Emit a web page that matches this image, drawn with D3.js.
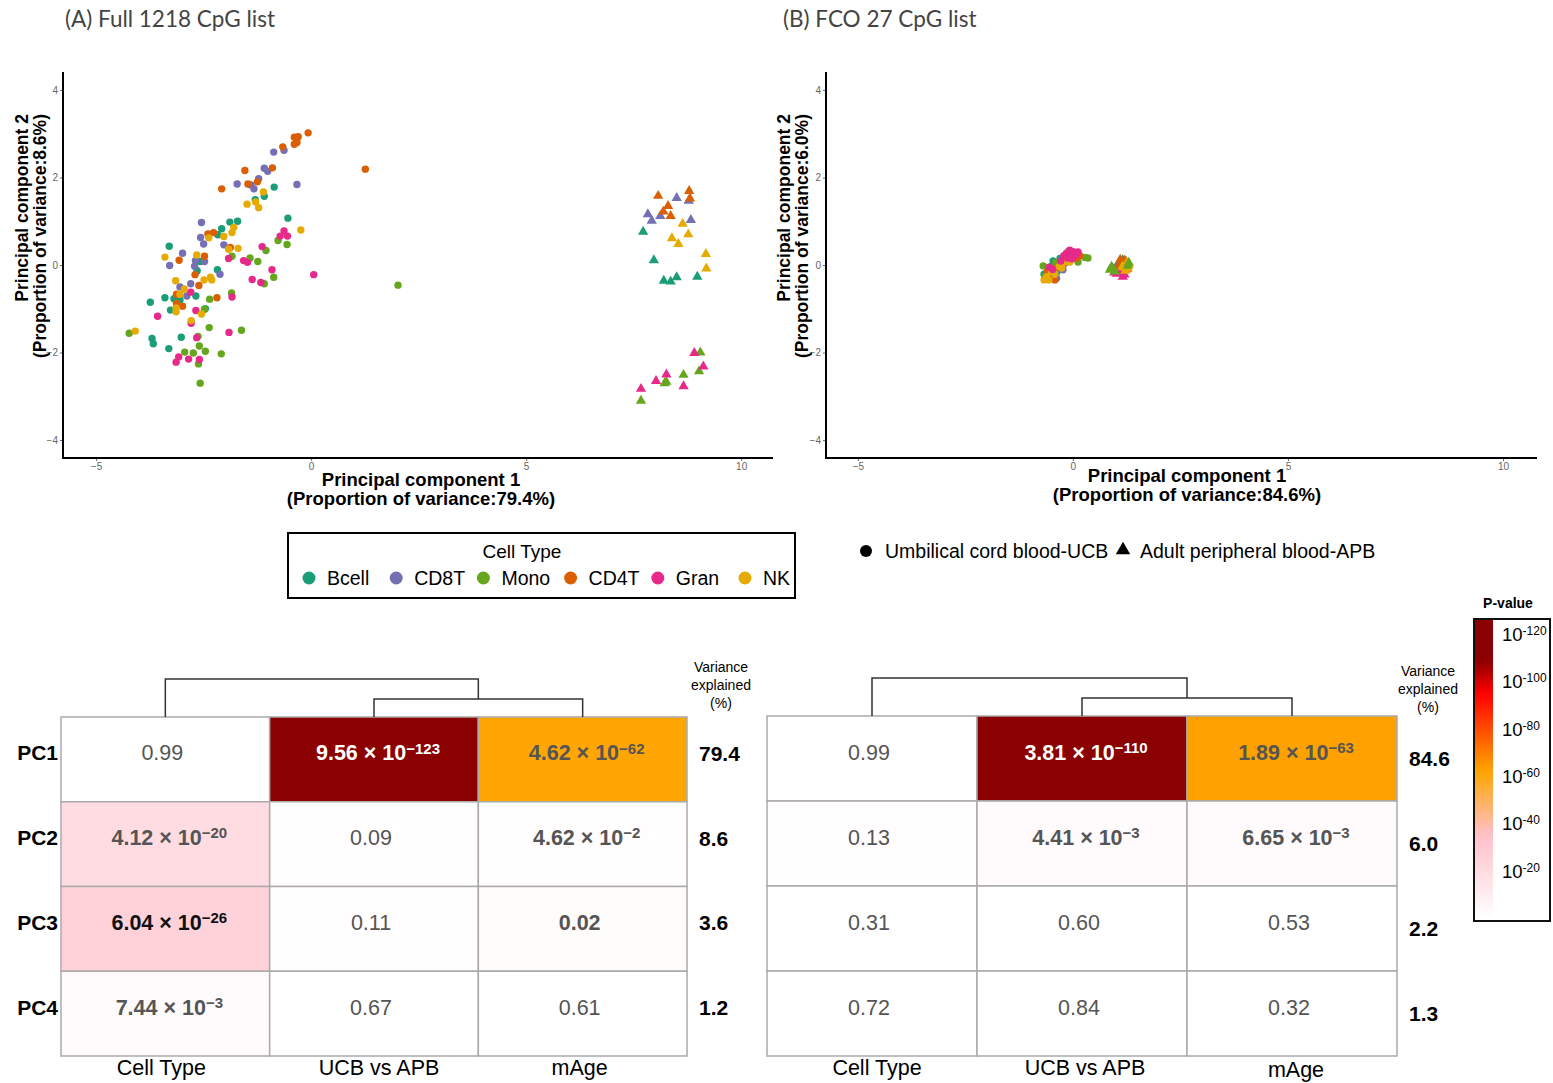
<!DOCTYPE html>
<html>
<head>
<meta charset="utf-8">
<script src="https://cdn.jsdelivr.net/npm/d3@7"></script>
<style>
  body { margin: 0; background: #fff; }
  svg { display: block; }
  text { font-family: "Liberation Sans", Arial, sans-serif; }
</style>
</head>
<body>
<svg id="fig" width="1553" height="1083"></svg>
<script>
// ---------- data ----------
const cellTypes = ["Bcell", "CD8T", "Mono", "CD4T", "Gran", "NK"];
const cellColors = ["#1B9E77", "#7570B3", "#66A61E", "#D95F02", "#E7298A", "#E6AB02"];
const pc1Ticks = [-5, 0, 5, 10];
const pc2Ticks = [-4, -2, 0, 2, 4];

// Full 1218 CpG list: [cell type, PC1, PC2]
const fullUCB = [
  ["Bcell",-0.86,1.78],["Bcell",-1.30,1.49],["Bcell",-1.09,1.57],["Bcell",-0.54,1.07],["Bcell",-1.89,0.98],
  ["Bcell",-1.71,1.00],["Bcell",-2.08,0.83],["Bcell",-2.17,0.69],["Bcell",-3.30,0.43],["Bcell",-2.58,0.08],
  ["Bcell",-2.65,-0.13],["Bcell",-2.18,-0.11],["Bcell",-2.68,-0.71],["Bcell",-3.19,-0.77],["Bcell",-3.05,-0.80],
  ["Bcell",-3.74,-0.85],["Bcell",-3.40,-0.75],["Bcell",-3.27,-1.03],["Bcell",-2.46,-1.00],["Bcell",-3.70,-1.68],
  ["Bcell",-3.67,-1.80],["Bcell",-3.02,-1.65],["Bcell",-3.31,-1.91],
  ["CD8T",-0.63,2.62],["CD8T",-0.87,2.58],["CD8T",-1.09,2.21],["CD8T",-1.01,2.14],["CD8T",-1.22,1.97],
  ["CD8T",-1.72,1.85],["CD8T",-1.40,1.83],["CD8T",-1.33,1.74],["CD8T",-0.33,1.84],["CD8T",-2.55,0.97],
  ["CD8T",-2.57,0.63],["CD8T",-2.50,0.48],["CD8T",-2.03,0.46],["CD8T",-2.99,0.27],["CD8T",-3.29,-0.01],
  ["CD8T",-2.69,0.10],["CD8T",-2.48,0.08],["CD8T",-2.71,-0.03],["CD8T",-2.12,-0.21],["CD8T",-2.80,-0.43],
  ["CD8T",-3.05,-0.50],["CD8T",-2.89,-0.71],
  ["Mono",-0.77,0.56],["Mono",-0.56,0.47],["Mono",-1.05,0.33],["Mono",-1.84,0.20],["Mono",-1.42,0.16],
  ["Mono",-1.24,0.08],["Mono",-0.87,-0.28],["Mono",-1.09,-0.43],["Mono",-1.85,-0.64],["Mono",-2.36,-0.78],
  ["Mono",-2.48,-1.01],["Mono",-2.37,-1.43],["Mono",-1.62,-1.49],["Mono",-4.23,-1.56],["Mono",-2.63,-1.63],
  ["Mono",-2.60,-1.85],["Mono",-2.94,-1.99],["Mono",-2.74,-2.01],["Mono",-2.46,-1.97],["Mono",-2.09,-2.03],
  ["Mono",-2.62,-2.26],["Mono",-2.58,-2.70],["Mono",2.02,-0.46],
  ["CD4T",-0.07,3.02],["CD4T",-0.30,2.93],["CD4T",-0.39,2.92],["CD4T",-0.39,2.76],["CD4T",-0.33,2.80],
  ["CD4T",-0.66,2.70],["CD4T",-1.54,2.16],["CD4T",-0.90,2.22],["CD4T",-1.25,1.90],["CD4T",-1.47,1.85],
  ["CD4T",-2.08,1.74],["CD4T",1.26,2.19],["CD4T",-2.40,0.71],["CD4T",-2.27,0.74],["CD4T",-1.88,0.40],
  ["CD4T",-3.07,0.11],["CD4T",-2.48,0.20],["CD4T",-2.70,-0.22],["CD4T",-2.61,-0.47],["CD4T",-3.13,-0.67],
  ["CD4T",-2.19,-0.75],["CD4T",-3.13,-0.88],["CD4T",-2.99,-0.94],
  ["Gran",-0.63,0.78],["Gran",-0.72,0.66],["Gran",-0.55,0.66],["Gran",-1.14,0.42],["Gran",-1.92,0.15],
  ["Gran",-1.57,0.10],["Gran",-1.48,0.06],["Gran",-0.91,-0.11],["Gran",0.06,-0.22],["Gran",-1.37,-0.33],
  ["Gran",-1.17,-0.40],["Gran",-2.80,-0.62],["Gran",-1.84,-0.73],["Gran",-2.68,-1.04],["Gran",-3.57,-1.17],
  ["Gran",-2.79,-1.33],["Gran",-1.91,-1.54],["Gran",-2.66,-1.66],["Gran",-3.08,-2.10],["Gran",-3.14,-2.22],
  ["Gran",-2.85,-2.15],["Gran",-2.60,-2.16],
  ["NK",-1.11,1.67],["NK",-1.49,1.39],["NK",-1.29,1.44],["NK",-1.22,1.31],["NK",-1.80,0.86],
  ["NK",-1.84,0.74],["NK",-2.38,0.62],["NK",-2.03,0.65],["NK",-0.24,0.80],["NK",-1.70,0.38],
  ["NK",-1.92,0.36],["NK",-3.40,0.18],["NK",-2.66,0.23],["NK",-3.15,-0.36],["NK",-2.49,-0.34],
  ["NK",-2.34,-0.28],["NK",-2.31,-0.34],["NK",-2.95,-0.55],["NK",-3.05,-0.67],["NK",-3.14,-0.98],
  ["NK",-3.14,-1.07],["NK",-2.55,-1.12],["NK",-2.79,-1.27],["NK",-4.09,-1.51]
];
const fullAPB = [
  ["Bcell",7.72,0.76],["Bcell",7.97,0.11],["Bcell",8.20,-0.36],["Bcell",8.36,-0.38],["Bcell",8.50,-0.28],["Bcell",8.98,-0.27],
  ["CD8T",8.50,1.53],["CD8T",8.78,1.47],["CD8T",7.83,1.16],["CD8T",8.12,1.12],["CD8T",7.92,1.01],["CD8T",8.83,1.03],
  ["Mono",9.05,-2.00],["Mono",9.02,-2.43],["Mono",8.66,-2.51],["Mono",8.26,-2.67],["Mono",8.22,-2.70],["Mono",7.67,-3.10],
  ["CD4T",8.07,1.58],["CD4T",8.79,1.69],["CD4T",8.81,1.52],["CD4T",8.30,1.35],["CD4T",8.19,1.22],["CD4T",8.36,1.12],
  ["Gran",8.91,-2.01],["Gran",9.12,-2.32],["Gran",8.26,-2.50],["Gran",8.02,-2.65],["Gran",8.66,-2.77],["Gran",7.67,-2.83],
  ["NK",8.64,0.94],["NK",8.77,0.70],["NK",8.39,0.61],["NK",8.54,0.48],["NK",9.18,0.25],["NK",9.19,-0.08]
];

// FCO 27 CpG list: [cell type, PC1, PC2]
const fcoUCB = [
  ["Bcell",-0.46,0.09],["Bcell",-0.30,0.15],["Bcell",-0.09,0.32],["Bcell",-0.58,-0.11],["Bcell",-0.26,0.07],
  ["Bcell",-0.37,-0.16],["Bcell",0.05,0.25],["Bcell",-0.67,-0.21],["Bcell",-0.16,0.21],["Bcell",-0.49,-0.02],
  ["CD8T",-0.38,-0.30],["CD8T",-0.19,0.04],["CD8T",-0.53,-0.16],["CD8T",-0.30,-0.07],["CD8T",-0.07,0.21],
  ["CD8T",-0.63,-0.30],["CD8T",-0.23,-0.11],["CD8T",0.02,0.30],
  ["Mono",-0.69,-0.02],["Mono",-0.65,-0.27],["Mono",0.28,0.17],["Mono",0.35,0.16],["Mono",-0.40,0.05],
  ["Mono",-0.56,-0.23],["Mono",0.12,0.07],["Mono",-0.49,-0.30],
  ["CD4T",-0.50,-0.27],["CD4T",-0.23,0.00],["CD4T",0.16,0.21],["CD4T",0.09,0.16],["CD4T",-0.35,-0.05],
  ["CD4T",-0.60,-0.16],["CD4T",-0.12,0.11],["CD4T",-0.42,-0.34],
  ["NK",-0.61,-0.27],["NK",-0.50,-0.15],["NK",-0.32,-0.04],["NK",-0.42,-0.21],["NK",-0.26,-0.07],
  ["NK",-0.19,0.07],["NK",-0.67,-0.34],["NK",-0.07,0.07],["NK",-0.56,-0.34],
  ["Gran",-0.55,-0.05],["Gran",-0.47,-0.10],["Gran",-0.15,0.27],["Gran",-0.07,0.34],["Gran",0.00,0.30],
  ["Gran",0.07,0.23],["Gran",0.12,0.30],["Gran",-0.12,0.16],["Gran",-0.21,0.21],["Gran",-0.02,0.14],["Gran",-0.28,0.09]
];
const fcoAPB = [
  ["Bcell",1.02,-0.08],["Bcell",1.16,0.11],["Bcell",1.10,0.02],["Bcell",1.20,-0.05],["Bcell",1.07,0.05],["Bcell",1.23,0.08],
  ["CD8T",1.12,-0.18],["CD8T",1.05,-0.12],["CD8T",1.18,-0.02],["CD8T",1.22,0.02],["CD8T",1.00,-0.05],["CD8T",1.14,0.07],
  ["CD4T",1.13,0.08],["CD4T",1.10,0.12],["CD4T",1.17,0.04],["CD4T",1.24,0.06],["CD4T",1.08,0.00],["CD4T",1.20,0.10],
  ["Gran",1.02,-0.20],["Gran",1.16,-0.27],["Gran",1.10,-0.14],["Gran",1.25,-0.10],["Gran",0.96,-0.17],["Gran",1.20,-0.22],
  ["NK",1.25,0.04],["NK",1.28,-0.08],["NK",1.19,-0.06],["NK",1.30,0.01],["NK",1.22,-0.13],["NK",1.15,-0.04],
  ["Mono",0.86,-0.11],["Mono",0.93,-0.08],["Mono",0.98,-0.15],["Mono",1.28,-0.02],["Mono",1.30,0.05],["Mono",0.90,-0.04]
];

// Association of each PC with covariates (p-values) and variance explained
const pcLabels = ["PC1", "PC2", "PC3", "PC4"];
const covariates = ["Cell Type", "UCB vs APB", "mAge"];
const fullPvals = [
  ["0.99", "9.56e-123", "4.62e-62"],
  ["4.12e-20", "0.09", "4.62e-2"],
  ["6.04e-26", "0.11", "0.02"],
  ["7.44e-3", "0.67", "0.61"]
];
const fullVariance = [79.4, 8.6, 3.6, 1.2];
const fcoPvals = [
  ["0.99", "3.81e-110", "1.89e-63"],
  ["0.13", "4.41e-3", "6.65e-3"],
  ["0.31", "0.60", "0.53"],
  ["0.72", "0.84", "0.32"]
];
const fcoVariance = [84.6, 6.0, 2.2, 1.3];
const pTickExponents = [120, 100, 80, 60, 40, 20];

// ---------- drawing ----------
const svg = d3.select("#fig");
const colorOf = d3.scaleOrdinal(cellTypes, cellColors);
const heat = d3.scaleLinear()
  .domain([0, 35, 62, 95, 109])
  .range(["#ffffff", "#ffc0cb", "#ffa500", "#ff0000", "#8b0000"])
  .clamp(true);
const minus = s => s.replace(/-/g, "\u2212");

function scatterPanel(cfg) {
  const g = svg.append("g");
  const x = d3.scaleLinear().domain(cfg.xDomain).range([cfg.left, cfg.right]);
  const y = d3.scaleLinear().domain([-4.41, 4.41]).range([cfg.bottom, cfg.top]);

  g.append("text").attr("x", cfg.titleX).attr("y", 27)
    .style("font-family", "Lato, 'Open Sans', sans-serif").style("font-size", "22.5px")
    .attr("fill", "#444").text(cfg.title);

  const xa = g.append("g").attr("transform", `translate(0,${cfg.bottom})`)
    .call(d3.axisBottom(x).tickValues(pc1Ticks).tickSize(3).tickPadding(2).tickFormat(d => minus(String(d))));
  const ya = g.append("g").attr("transform", `translate(${cfg.left},0)`)
    .call(d3.axisLeft(y).tickValues(pc2Ticks).tickSize(3).tickPadding(2).tickFormat(d => minus(String(d))));
  [xa, ya].forEach(a => {
    a.select(".domain").remove();
    a.selectAll(".tick line").attr("stroke", "#666");
    a.selectAll(".tick text").attr("fill", "#666").style("font-size", "10px")
      .style("font-family", "'Liberation Sans', Arial, sans-serif");
  });
  g.append("path")
    .attr("d", `M${cfg.left},${cfg.top}V${cfg.bottom}H${cfg.right}`)
    .attr("fill", "none").attr("stroke", "#000").attr("stroke-width", 2);

  g.append("g").selectAll("circle").data(cfg.ucb).join("circle")
    .attr("cx", d => x(d[1])).attr("cy", d => y(d[2])).attr("r", 3.7)
    .attr("fill", d => colorOf(d[0]));
  const tri = d3.symbol(d3.symbolTriangle, 46);
  g.append("g").selectAll("path").data(cfg.apb).join("path")
    .attr("d", tri).attr("transform", d => `translate(${x(d[1])},${y(d[2])})`)
    .attr("fill", d => colorOf(d[0]));

  const xt = g.append("text").attr("text-anchor", "middle")
    .style("font-size", "18.5px").style("font-weight", "bold");
  xt.append("tspan").attr("x", cfg.xTitleX).attr("y", cfg.xTitleY).text("Principal component 1");
  xt.append("tspan").attr("x", cfg.xTitleX).attr("y", cfg.xTitleY + 19).text(cfg.xVar);

  const yt = g.append("text").attr("text-anchor", "end")
    .attr("transform", `translate(${cfg.yTitleX},114) rotate(-90)`)
    .style("font-size", "17.5px").style("font-weight", "bold");
  yt.append("tspan").attr("x", 0).attr("y", 0).text("Principal component 2");
  yt.append("tspan").attr("x", 0).attr("y", 18).text(cfg.yVar);
}

scatterPanel({
  title: "(A) Full 1218 CpG list", titleX: 65, left: 63, right: 773, top: 72, bottom: 458,
  xDomain: [-5.77, 10.74], ucb: fullUCB, apb: fullAPB,
  xTitleX: 421, xTitleY: 486, xVar: "(Proportion of variance:79.4%)",
  yTitleX: 28, yVar: "(Proportion of variance:8.6%)"
});
scatterPanel({
  title: "(B) FCO 27 CpG list", titleX: 783, left: 826, right: 1537, top: 72, bottom: 458,
  xDomain: [-5.74, 10.79], ucb: fcoUCB, apb: fcoAPB,
  xTitleX: 1187, xTitleY: 482, xVar: "(Proportion of variance:84.6%)",
  yTitleX: 790, yVar: "(Proportion of variance:6.0%)"
});

// Cell type legend
const leg = svg.append("g");
leg.append("rect").attr("x", 288).attr("y", 533).attr("width", 507).attr("height", 65)
  .attr("fill", "none").attr("stroke", "#000").attr("stroke-width", 2);
leg.append("text").attr("x", 522).attr("y", 558).attr("text-anchor", "middle")
  .style("font-size", "19px").text("Cell Type");
const legX = d3.scalePoint().domain(cellTypes).range([309, 745]);
const item = leg.selectAll("g.item").data(cellTypes).join("g").attr("class", "item")
  .attr("transform", d => `translate(${legX(d)},578)`);
item.append("circle").attr("r", 6.5).attr("fill", d => colorOf(d));
item.append("text").attr("x", 18).attr("y", 7).style("font-size", "19.5px").text(d => d);

// Sample group legend
const sg = svg.append("g").style("font-size", "19.5px");
sg.append("circle").attr("cx", 866).attr("cy", 551).attr("r", 6).attr("fill", "#000");
sg.append("text").attr("x", 885).attr("y", 558).text("Umbilical cord blood-UCB");
sg.append("path").attr("d", d3.symbol(d3.symbolTriangle, 90)()).attr("transform", "translate(1123,550)").attr("fill", "#000");
sg.append("text").attr("x", 1140).attr("y", 558).text("Adult peripheral blood-APB");

// ---------- heatmaps ----------
function heatPanel(cfg) {
  const g = svg.append("g");
  const x = d3.scaleBand().domain(covariates).range([cfg.left, cfg.right]);
  const y = d3.scaleBand().domain(pcLabels).range([cfg.top, cfg.bottom]);
  const cells = [];
  cfg.pvals.forEach((row, i) => row.forEach((s, j) => {
    const p = +s;
    cells.push({ pc: pcLabels[i], cov: covariates[j], s, p, v: -Math.log10(p) });
  }));
  g.selectAll("rect").data(cells).join("rect")
    .attr("x", d => x(d.cov)).attr("y", d => y(d.pc))
    .attr("width", x.bandwidth()).attr("height", y.bandwidth())
    .attr("fill", d => heat(d.v)).attr("stroke", "#aaa").attr("stroke-width", 1.5);

  const t = g.selectAll("text.cell").data(cells).join("text").attr("class", "cell")
    .attr("x", d => x(d.cov) + x.bandwidth() / 2 + (d.s.includes("e") ? 4 : -3))
    .attr("y", d => y(d.pc) + y.bandwidth() / 2 + 1)
    .attr("text-anchor", "middle").style("font-size", "21.5px")
    .style("font-weight", d => d.p < 0.05 ? "bold" : "normal")
    .attr("fill", d => d.v > 90 ? "#fff" : (d.v > 22 && d.v < 40 ? "#111" : "#555"));
  t.each(function (d) {
    const el = d3.select(this);
    if (d.s.includes("e")) {
      const [m, e] = d.s.split("e");
      el.append("tspan").text(`${m} \u00d7 10`);
      el.append("tspan").attr("dy", "-0.45em").style("font-size", "15px").text(minus(e));
    } else {
      el.text(d.s);
    }
  });

  // dendrogram: Cell Type joins the (UCB vs APB, mAge) cluster
  const c = covariates.map(k => x(k) + x.bandwidth() / 2);
  const hi = cfg.top - 38, lo = cfg.top - 18;
  const mid = (c[1] + c[2]) / 2;
  g.append("path")
    .attr("d", `M${c[1]},${cfg.top}V${lo}H${c[2]}V${cfg.top}M${mid},${lo}V${hi}H${c[0]}V${cfg.top}`)
    .attr("fill", "none").attr("stroke", "#333").attr("stroke-width", 1.5);

  if (cfg.rowLabels) {
    g.selectAll("text.pc").data(pcLabels).join("text").attr("class", "pc")
      .attr("x", cfg.left - 3).attr("y", d => y(d) + y.bandwidth() / 2 + 1)
      .attr("text-anchor", "end").style("font-size", "21px").style("font-weight", "bold").text(d => d);
  }
  g.selectAll("text.var").data(cfg.variance).join("text").attr("class", "var")
    .attr("x", cfg.right + 12).attr("y", (d, i) => y(pcLabels[i]) + y.bandwidth() / 2 + cfg.varDy)
    .style("font-size", "21px").style("font-weight", "bold").text(d => d.toFixed(1));
  const vh = g.append("text").attr("text-anchor", "middle").style("font-size", "14px");
  ["Variance", "explained", "(%)"].forEach((w, i) =>
    vh.append("tspan").attr("x", cfg.varHeadX).attr("y", cfg.varHeadY + i * 18).text(w));
  g.selectAll("text.cov").data(covariates).join("text").attr("class", "cov")
    .attr("x", (d, i) => x(d) + x.bandwidth() / 2 + cfg.covDx[i]).attr("y", (d, i) => cfg.bottom + 19 + cfg.covDy[i])
    .attr("text-anchor", "middle").style("font-size", "21.5px").text(d => d);
}

heatPanel({ left: 61, right: 687, top: 717, bottom: 1056, pvals: fullPvals, variance: fullVariance,
  rowLabels: true, varDy: 1.5, varHeadX: 721, varHeadY: 672, covDx: [-4, 5, -3], covDy: [0, 0, 0] });
heatPanel({ left: 767, right: 1397, top: 716, bottom: 1056, pvals: fcoPvals, variance: fcoVariance,
  rowLabels: false, varDy: 7.5, varHeadX: 1428, varHeadY: 676, covDx: [5, 3, 4], covDy: [0, 0, 2] });

// ---------- P-value colour bar ----------
const cb = svg.append("g");
const cbY = d3.scaleLinear().domain([0, 126]).range([918, 620]);
const grad = svg.append("defs").append("linearGradient").attr("id", "pgrad")
  .attr("x1", 0).attr("y1", 1).attr("x2", 0).attr("y2", 0);
d3.range(0, 127, 3).forEach(v =>
  grad.append("stop").attr("offset", v / 126).attr("stop-color", heat(v)));
cb.append("text").attr("x", 1508).attr("y", 608).attr("text-anchor", "middle")
  .style("font-size", "14px").style("font-weight", "bold").text("P-value");
cb.append("rect").attr("x", 1474).attr("y", 619).attr("width", 76).attr("height", 302)
  .attr("fill", "#fff").attr("stroke", "#111").attr("stroke-width", 2);
cb.append("rect").attr("x", 1475).attr("y", cbY(126)).attr("width", 18).attr("height", cbY(0) - cbY(126))
  .attr("fill", "url(#pgrad)");
const lab = cb.selectAll("text.tick").data(pTickExponents).join("text").attr("class", "tick")
  .attr("x", 1502).attr("y", d => cbY(d) + 7).style("font-size", "18.5px");
lab.append("tspan").text("10");
lab.append("tspan").attr("dy", "-0.5em").style("font-size", "12px").text(d => "-" + d);
</script>
</body>
</html>
